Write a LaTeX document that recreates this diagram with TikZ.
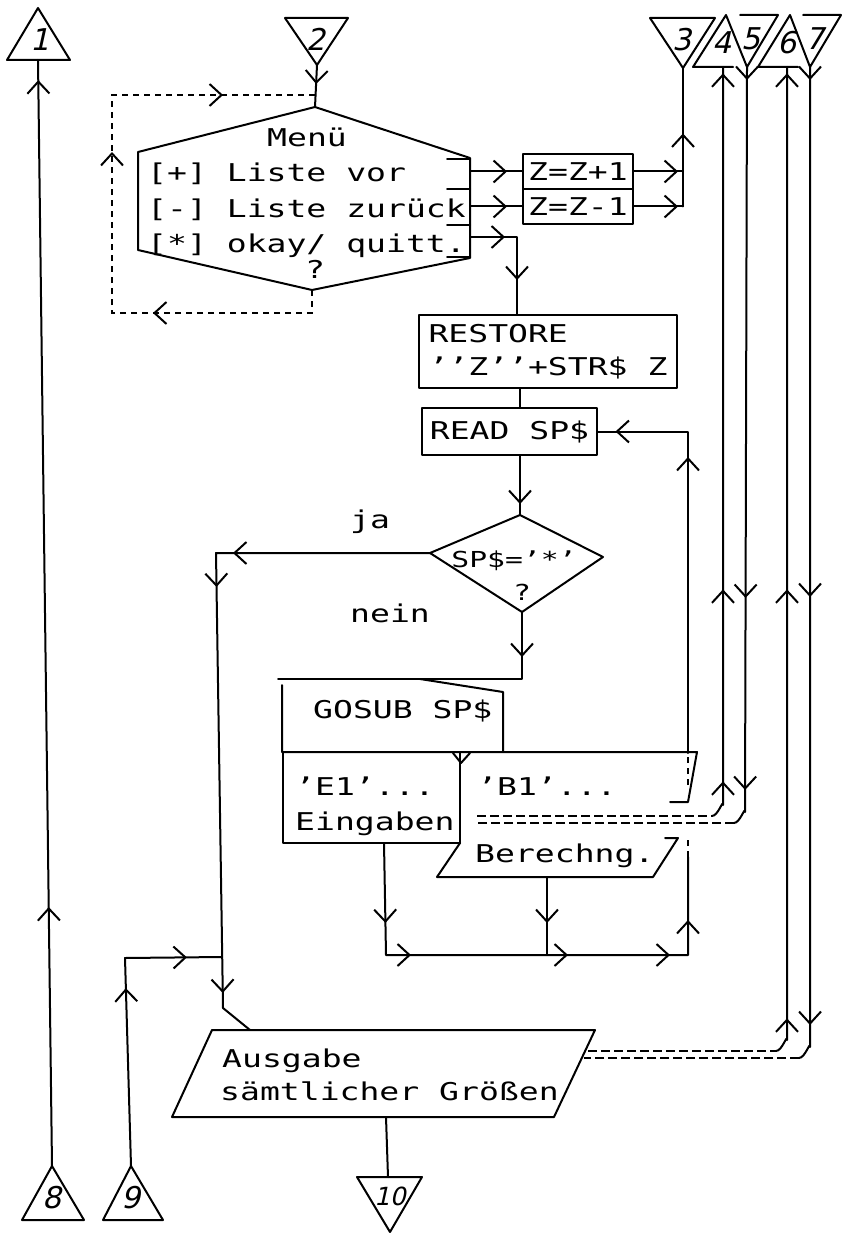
\documentclass[tikz,border=0pt]{standalone}
\usepackage{fontspec}
\usetikzlibrary{arrows.meta,decorations.markings}
\newfontfamily\plotter[FakeStretch=1.35]{DejaVu Sans Mono}
\newfontfamily\digitfont[FakeSlant=0.22]{DejaVu Sans}

\tikzset{
  wire/.style={line width=2pt, line cap=round, line join=round},
  dbl/.style={line width=2pt, dash pattern=on 9pt off 4pt},
  hidden/.style={line width=2pt, dash pattern=on 6pt off 5pt},
  txt/.style={inner sep=0pt, font=\plotter\fontsize{24.5}{33}\selectfont},
  stxt/.style={inner sep=0pt, font=\plotter\fontsize{22}{28}\selectfont},
  num/.style={inner sep=0pt, font=\digitfont\fontsize{30}{30}\selectfont},
  box/.style={draw, wire, inner sep=0pt, txt},
  arr/.style={postaction={decorate, decoration={markings,
      mark=at position #1 with {\arrow{Straight Barb[length=12pt, width=22pt, line width=2pt]}}}}},
}

\begin{document}
\begin{tikzpicture}[x=1pt, y=-1pt]
\useasboundingbox (0,0) rectangle (843,1233);

% Connectors
\draw[wire] (7,60) -- (38,8) -- (70,60) -- cycle;
\node[num] (n1) at (40,40) {1};
\coordinate (b1) at (38,60);
\draw[wire] (285,18) -- (348,18) -- (317,65) -- cycle;
\node[num] (n2) at (316,39) {2};
\coordinate (t2) at (317,65);
\draw[wire] (650,18) -- (715,18) -- (683,68) -- cycle;
\node[num] (n3) at (682,40) {3};
\coordinate (t3) at (683,68);
\draw[wire] (733,67) -- (693,67) -- (726,15) -- (747,67) -- (778,15) -- (740,15);
\node[num] (n4) at (722,43) {4};
\node[num] (n5) at (751,39) {5};
\coordinate (b4) at (723,67);
\coordinate (t5) at (747,67);
\draw[wire] (798,67) -- (758,67) -- (790,15) -- (810,67) -- (841,15) -- (803,15);
\node[num] (n6) at (787,43) {6};
\node[num] (n7) at (815,39) {7};
\coordinate (b6) at (787,67);
\coordinate (t7) at (810,67);
\draw[wire] (22,1220) -- (52,1166) -- (84,1220) -- cycle;
\node[num] (n8) at (52,1198) {8};
\coordinate (t8) at (52,1166);
\draw[wire] (103,1220) -- (131,1166) -- (163,1220) -- cycle;
\node[num] (n9) at (131,1198) {9};
\coordinate (t9) at (131,1166);
\draw[wire] (357,1177) -- (422,1177) -- (390,1232) -- cycle;
\node[num, font=\digitfont\fontsize{25}{25}\selectfont] (n10) at (390,1196) {10};
\coordinate (t10) at (388,1177);

% Menu
\coordinate (mtop) at (315,107);
\coordinate (mbot) at (312,290);
\draw[wire] (mtop) -- (138,152) -- (138,250) -- (mbot) -- (470,258) -- (470,158) -- cycle;
\foreach \y in {159,189,225,257}
  \draw[wire] (447,\y) -- (470,\y);
\node[txt, anchor=base] (menutitle) at (307,147) {Menü};
\node[txt, anchor=base west] (optplus) at (147,182) {[+] Liste vor};
\node[txt, anchor=base west] (optminus) at (147,218) {[-] Liste zurück};
\node[txt, anchor=base west] (optok) at (147,252) {[*] okay/ quitt.};
\node[txt, anchor=base] (menuq) at (315,278) {?};
\coordinate (loopin) at (315,95);
\draw[wire, arr=19pt] (t2) -- (mtop);
\draw[hidden, arr=182pt, arr=384pt, arr=552pt] (mbot) -- (312,313) -- (112,313) -- (112,95) -- (loopin);

% Z boxes
\node[box, minimum width=110pt, minimum height=35pt] (zplus) at (578,171.5) {Z=Z+1};
\node[box, minimum width=110pt, minimum height=35pt] (zminus) at (578,206.5) {Z=Z-1};
\coordinate (oplus) at (470,171.5);
\coordinate (ominus) at (470,206.5);
\coordinate (ook) at (470,237);
\coordinate (okturn) at (517,237);
\draw[wire, arr=37pt] (oplus) -- (zplus.west);
\draw[wire, arr=37pt] (ominus) -- (zminus.west);
\draw[wire, arr=44pt] (zplus.east) -- (zplus.east -| t3);
\draw[wire, arr=44pt] (zminus.east) -- (zminus.east -| t3);
\draw[wire, arr=73pt] (zminus.east -| t3) -- (t3);

% Restore / Read / test
\node[box, minimum width=258pt, minimum height=73pt, align=left] (restore) at (548,351.5) {RESTORE\\’’Z’’+STR\$ Z};
\node[box, minimum width=175pt, minimum height=47pt] (read) at (509.5,431.5) {READ SP\$};
\draw[wire, arr=35pt, arr=90pt] (ook) -- (okturn) -- (okturn |- restore.north);
\coordinate (dtop) at (520,515);
\coordinate (dright) at (603,557);
\coordinate (dbot) at (522,612);
\coordinate (dleft) at (430,553);
\draw[wire] (dtop) -- (dright) -- (dbot) -- (dleft) -- cycle;
\node[stxt, anchor=base] (testtxt) at (514,567) {SP\$=’*’};
\node[stxt, anchor=base] (testq) at (522,600) {?};
\node[txt, anchor=base west] (ja) at (350,528) {ja};
\node[txt, anchor=base west] (nein) at (350,622) {nein};
\draw[wire] (restore.south -| dtop) -- (read.north -| dtop);
\draw[wire, arr=48pt] (read.south -| dtop) -- (dtop);

% ja branch
\coordinate (jaturn) at (216,553);
\coordinate (jaend) at (223,1008);
\coordinate (ausin) at (250,1030);
\draw[wire, arr=197pt, arr=248pt, arr=654pt] (dleft) -- (jaturn) -- (jaend) -- (ausin);

% GOSUB
\coordinate (gtop) at (522,679);
\coordinate (gleft) at (278,679);
\draw[wire, arr=45pt] (dbot) -- (gtop) -- (gleft);
\draw[wire] (282,685) -- (282,752) -- (503,752) -- (503,692) -- (420,679);
\node[txt, anchor=base west] (gosub) at (313,718) {GOSUB SP\$};

% Subroutines
\draw[wire] (283,752) -- (283,843) -- (460,843);
\draw[wire] (460,752) -- (460,843);
\draw[wire] (503,752) -- (697,752) -- (688,802) -- (670,802);
\draw[wire] (665,838) -- (678,838) -- (653,877) -- (437,877) -- (460,843);
\draw[wire] (453,753) -- (461,763) -- (470,753);
\node[txt, anchor=base west] (eins) at (295,795) {’E1’...};
\node[txt, anchor=base west] (eing) at (295,830) {Eingaben};
\node[txt, anchor=base west] (bins) at (477,795) {’B1’...};
\node[txt, anchor=base west] (berech) at (475,862) {Berechng.};

% Back to READ
\coordinate (e1out) at (384,843);
\coordinate (collect) at (386,955);
\coordinate (loopcorner) at (688,955);
\coordinate (loophid) at (688,857);
\coordinate (loopup) at (688,753);
\draw[wire, arr=80pt, arr=137pt, arr=294pt, arr=396pt, arr=449pt] (e1out) -- (collect) -- (loopcorner) -- (loophid);
\draw[wire, arr=46pt] (547,877) -- (547,955);
\draw[hidden] (loophid) -- (688,838);
\draw[hidden] (688,785) -- (loopup);
\draw[wire, arr=296pt, arr=394pt] (loopup) -- (loopup |- read.east) -- (read.east);

% Lines 4 and 5
\coordinate (c4) at (723,805);
\draw[dbl] (477,816) -- (712,816);
\draw[wire, arr=41pt, arr=233pt, arr=749pt] (712,816) to[out=0, in=90] (c4) -- (b4);
\draw[wire, arr=13pt, arr=531pt, arr=723pt] (t5) -- (745,812) to[out=90, in=0] (734,823);
\draw[dbl] (734,823) -- (477,823);

% Ausgabe
\draw[wire] (212,1030) -- (595,1030) -- (554,1117) -- (172,1117) -- cycle;
\node[txt, anchor=base west] (ausg) at (222,1067) {Ausgabe};
\node[txt, anchor=base west] (saemt) at (220,1100) {sämtlicher Größen};
\draw[wire] (386,1117) -- (t10);

% Lines 6 and 7
\coordinate (c6) at (787,1040);
\draw[dbl] (588,1051) -- (776,1051);
\draw[wire, arr=39pt, arr=468pt, arr=984pt] (776,1051) to[out=0, in=90] (c6) -- (b6);
\draw[wire, arr=13pt, arr=530pt, arr=958pt] (t7) -- (810,1047) to[out=90, in=0] (799,1058);
\draw[dbl] (799,1058) -- (584,1058);

% Lines 1 and 9
\draw[wire, arr=259pt, arr=1086pt] (t8) -- (b1);
\draw[wire, arr=178pt, arr=270pt] (t9) -- (125,958) -- (222,957);

\end{tikzpicture}
\end{document}
